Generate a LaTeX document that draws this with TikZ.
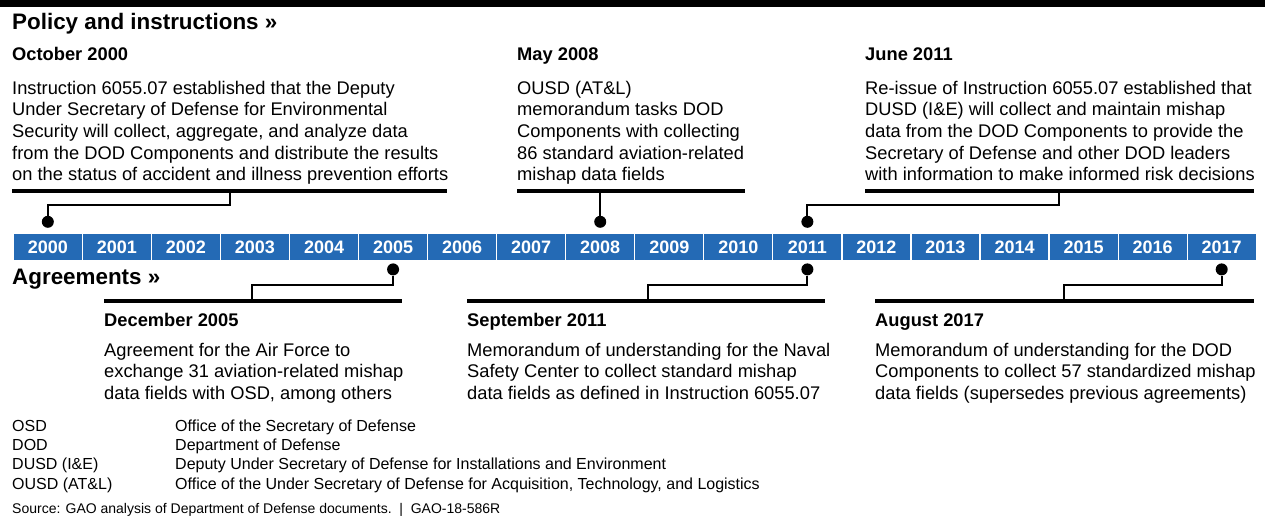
\documentclass[tikz,border=0pt]{standalone}
\usepackage{fontspec}
\setmainfont{Liberation Sans}
\usetikzlibrary{positioning}
\definecolor{yearblue}{RGB}{36,106,181}
\tikzset{
  sechead/.style={anchor=base west, inner sep=0pt, font=\fontsize{22.4}{26}\selectfont\bfseries},
  evhead/.style={anchor=base west, inner sep=0pt, font=\fontsize{18.3}{21}\selectfont\bfseries},
  evbody/.style={anchor=base west, inner sep=0pt, align=left, font=\fontsize{18.3}{21.7}\selectfont},
  rulebar/.style={line width=4pt},
  leader/.style={line width=2pt},
  evdot/.style={circle, fill=black, inner sep=0pt, minimum size=12pt},
  yearcell/.style={fill=yearblue, draw=white, line width=1.2pt, minimum width=69.05pt,
    minimum height=27.5pt, inner sep=0pt, text=white, font=\fontsize{18}{18}\selectfont\bfseries},
  abbr/.style={anchor=base west, inner sep=0pt, font=\fontsize{16}{16}\selectfont},
}
\begin{document}
\begin{tikzpicture}[x=1pt, y=-1pt]
\useasboundingbox (0,0) rectangle (1265,516);
\fill (0,0) rectangle (1265,7);

% section titles
\node[sechead] (policy) at (12,30) {Policy and instructions »};
\node[sechead] (agree) at (12,284.5) {Agreements »};

% year strip
\foreach \yr [count=\i from 0] in {2000,...,2017}
  \node[yearcell, anchor=north west] (y\yr) at ({12.7+\i*69.05},232.5) {\yr};

% dots on the strip
\node[evdot, above=4.5pt of y2000] (d2000) {};
\node[evdot, above=4.5pt of y2008] (d2008) {};
\node[evdot, above=4.5pt of y2011] (d2011) {};
\node[evdot, below=2pt of y2005] (d2005) {};
\node[evdot, below=2pt of y2011] (a2011) {};
\node[evdot, below=2pt of y2017] (d2017) {};

% policy events (body nodes are placed by their last line)
\node[evhead] (h1) at (12,61) {October 2000};
\node[evbody] (b1) at (12,180.8) {Instruction 6055.07 established that the Deputy\\Under Secretary of Defense for Environmental\\Security will collect, aggregate, and analyze data\\from the DOD Components and distribute the results\\on the status of accident and illness prevention efforts};
\draw[rulebar] (12,191) -- (447,191);
\coordinate (k1) at (230,191);
\draw[leader] (k1) -- ++(0,14) -| (d2000);

\node[evhead] (h2) at (517,61) {May 2008};
\node[evbody] (b2) at (517,180.8) {OUSD (AT\&L)\\memorandum tasks DOD\\Components with collecting\\86 standard aviation-related\\mishap data fields};
\draw[rulebar] (517,191) -- (745,191);
\coordinate (k2) at (d2008 |- 0,191);
\draw[leader] (k2) -- (d2008);

\node[evhead] (h3) at (865,61) {June 2011};
\node[evbody] (b3) at (865,180.8) {Re-issue of Instruction 6055.07 established that\\DUSD (I\&E) will collect and maintain mishap\\data from the DOD Components to provide the\\Secretary of Defense and other DOD leaders\\with information to make informed risk decisions};
\draw[rulebar] (865,191) -- (1254,191);
\coordinate (k3) at (1059,191);
\draw[leader] (k3) -- ++(0,14) -| (d2011);

% agreements
\draw[rulebar] (104,301) -- (402,301);
\coordinate (k4) at (252,301);
\draw[leader] (d2005) |- (252,285) -- (k4);
\node[evhead] (h4) at (104,326) {December 2005};
\node[evbody] (b4) at (104,399.4) {Agreement for the Air Force to\\exchange 31 aviation-related mishap\\data fields with OSD, among others};

\draw[rulebar] (467,301) -- (825,301);
\coordinate (k5) at (648,301);
\draw[leader] (a2011) |- (648,285) -- (k5);
\node[evhead] (h5) at (467,326) {September 2011};
\node[evbody] (b5) at (467,399.4) {Memorandum of understanding for the Naval\\Safety Center to collect standard mishap\\data fields as defined in Instruction 6055.07};

\draw[rulebar] (875,301) -- (1254,301);
\coordinate (k6) at (1064,301);
\draw[leader] (d2017) |- (1064,285) -- (k6);
\node[evhead] (h6) at (875,326) {August 2017};
\node[evbody] (b6) at (875,399.4) {Memorandum of understanding for the DOD\\Components to collect 57 standardized mishap\\data fields (supersedes previous agreements)};

% abbreviations
\foreach \ab/\full [count=\j from 0] in {OSD/Office of the Secretary of Defense,
    DOD/Department of Defense,
    DUSD (I\&E)/Deputy Under Secretary of Defense for Installations and Environment,
    OUSD (AT\&L)/{Office of the Under Secretary of Defense for Acquisition, Technology, and Logistics}} {
  \node[abbr] (ab\j) at (12,{431+\j*19.4}) {\ab};
  \node[abbr] (full\j) at (175,{431+\j*19.4}) {\full};
}
\node[abbr, font=\fontsize{14}{14}\selectfont] (src) at (12,513.5) {Source: GAO analysis of Department of Defense documents.~~|~~GAO-18-586R};
\end{tikzpicture}
\end{document}
